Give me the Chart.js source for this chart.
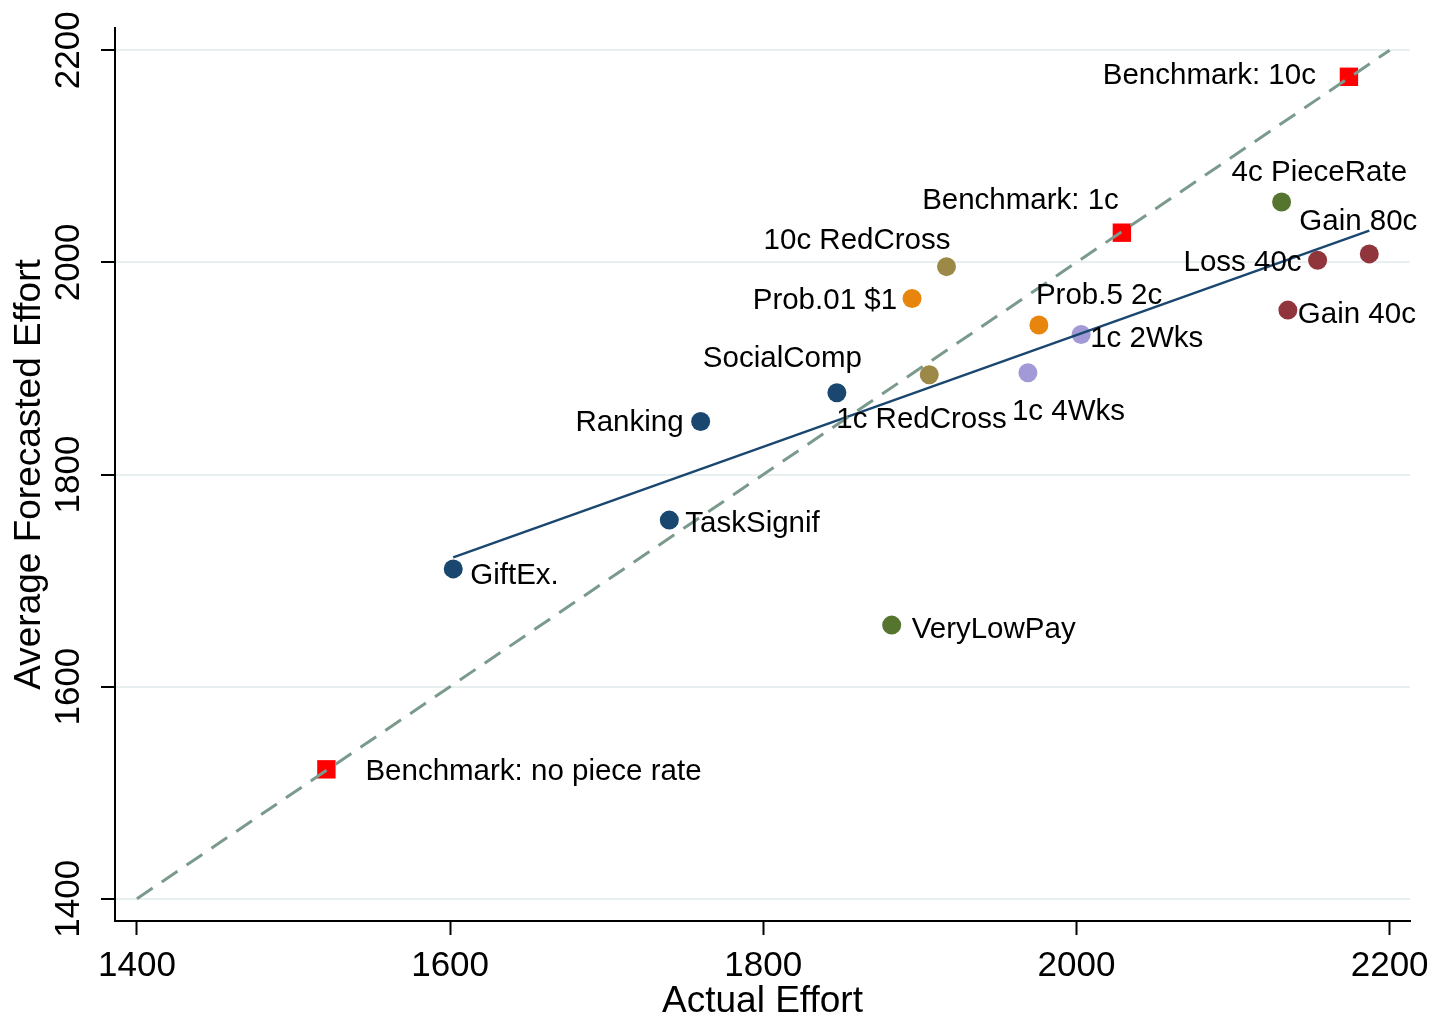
<!DOCTYPE html>
<html>
<head>
<meta charset="utf-8">
<script src="https://cdn.jsdelivr.net/npm/chart.js@4"></script>
<style>
  html, body { margin: 0; padding: 0; background: #fff; }
  canvas { display: block; }
</style>
</head>
<body>
<canvas id="chart" width="1436" height="1021"></canvas>
<script>
// treatments: actual effort vs. average forecasted effort
const names = [
  'Benchmark: 10c', 'Benchmark: 1c', 'Benchmark: no piece rate',
  '4c PieceRate', 'Gain 80c', 'Loss 40c', 'Gain 40c',
  '10c RedCross', 'Prob.01 $1', 'Prob.5 2c', '1c 2Wks', '1c 4Wks',
  '1c RedCross', 'SocialComp', 'Ranking', 'TaskSignif', 'GiftEx.', 'VeryLowPay'
]
const actual = [
  2174, 2029, 1521,
  2131, 2187, 2154, 2135,
  1917, 1895, 1976, 2003, 1969,
  1906, 1847, 1760, 1740, 1602, 1882
]
const forecast = [
  2175, 2028, 1522,
  2057, 2008, 2002, 1955,
  1996, 1966, 1941, 1932, 1896,
  1894, 1877, 1850, 1757, 1711, 1658
]
const groups = [
  'bench', 'bench', 'bench',
  'green', 'maroon', 'maroon', 'maroon',
  'tan', 'orange', 'orange', 'lavender', 'lavender',
  'tan', 'navy', 'navy', 'navy', 'navy', 'green'
]
const xTicks = [1400, 1600, 1800, 2000, 2200]
const yTicks = [1400, 1600, 1800, 2000, 2200]
const diagonal = [1400, 2200]

// styling
const FONT = '"Liberation Sans", Arial, sans-serif'
const groupColors = {
  bench: '#ff0000', navy: '#1a476f', maroon: '#90353b', green: '#55752f',
  orange: '#e8850c', tan: '#9c8847', lavender: '#a29ad6'
}
// [textAlign, dx, dy] relative to the marker
const labelPlace = [
  ['right', -33, -1], ['right', -3, -32], ['left', 39, 3],
  ['left', -50, -29], ['left', -70, -32], ['right', -16, 3], ['left', 10, 5],
  ['right', 4, -26], ['right', -15, 2], ['left', -3, -29], ['left', 9, 4], ['left', -16, 39],
  ['left', -93, 45], ['right', 25, -34], ['right', -17, 1], ['left', 16, 4], ['left', 17, 7], ['left', 20, 5]
]

// linear fit over the treatments (benchmarks left out)
function fitLine() {
  const idx = groups.map((g, i) => i).filter(i => groups[i] !== 'bench')
  const n = idx.length
  const mx = idx.reduce((s, i) => s + actual[i], 0) / n
  const my = idx.reduce((s, i) => s + forecast[i], 0) / n
  let sxy = 0, sxx = 0
  idx.forEach(i => {
    sxy += (actual[i] - mx) * (forecast[i] - my)
    sxx += (actual[i] - mx) ** 2
  })
  const b = sxy / sxx
  const xs = idx.map(i => actual[i])
  const x0 = Math.min(...xs), x1 = Math.max(...xs)
  return [{ x: x0, y: my + b * (x0 - mx) }, { x: x1, y: my + b * (x1 - mx) }]
}

const datasets = Object.keys(groupColors).map(g => {
  const pts = []
  groups.forEach((gg, i) => { if (gg === g) pts.push({ x: actual[i], y: forecast[i] }) })
  const isBench = g === 'bench'
  return {
    type: 'scatter',
    data: pts,
    order: 2,
    pointStyle: isBench ? 'rect' : 'circle',
    pointRadius: isBench ? 13 : 9.5,
    pointBackgroundColor: groupColors[g],
    pointBorderWidth: 0,
    pointHoverRadius: isBench ? 13 : 9.5
  }
})

datasets.push({
  type: 'line',
  data: fitLine(),
  order: 1,
  borderColor: '#1a476f',
  borderWidth: 2.5,
  pointRadius: 0,
  fill: false
})
datasets.push({
  type: 'line',
  data: diagonal.map(v => ({ x: v, y: v })),
  order: 0,
  borderColor: '#7a9a8c',
  borderWidth: 3,
  borderDash: [19, 11],
  pointRadius: 0,
  fill: false
})

const pointLabels = {
  id: 'pointLabels',
  afterDatasetsDraw(chart) {
    const { ctx, scales: { x, y } } = chart
    ctx.save()
    ctx.font = '29.5px ' + FONT
    ctx.fillStyle = '#000'
    ctx.textBaseline = 'middle'
    names.forEach((name, i) => {
      const [align, dx, dy] = labelPlace[i]
      ctx.textAlign = align
      ctx.fillText(name, x.getPixelForValue(actual[i]) + dx, y.getPixelForValue(forecast[i]) + dy)
    })
    ctx.restore()
  }
}

// vertical tick labels on the y axis
const yTickLabels = {
  id: 'yTickLabels',
  afterDraw(chart) {
    const { ctx, scales: { y } } = chart
    ctx.save()
    ctx.font = '35px ' + FONT
    ctx.fillStyle = '#000'
    ctx.textAlign = 'center'
    ctx.textBaseline = 'middle'
    y.ticks.forEach(t => {
      ctx.save()
      ctx.translate(y.right - 46, y.getPixelForValue(t.value))
      ctx.rotate(-Math.PI / 2)
      ctx.fillText(String(t.value), 0, 0)
      ctx.restore()
    })
    ctx.restore()
  }
}

new Chart(document.getElementById('chart'), {
  data: { datasets },
  plugins: [pointLabels, yTickLabels],
  options: {
    responsive: false,
    animation: false,
    layout: { padding: { top: 28, right: 26, left: 0, bottom: 0 } },
    plugins: { legend: { display: false }, tooltip: { enabled: false } },
    scales: {
      x: {
        type: 'linear',
        min: 1386,
        max: 2213,
        afterBuildTicks: s => { s.ticks = xTicks.map(v => ({ value: v })) },
        afterFit: s => { s.height = 100; s.paddingLeft = 0; s.paddingRight = 0 },
        border: { color: '#000', width: 2 },
        grid: { drawOnChartArea: false, tickLength: 14, tickColor: '#000', tickWidth: 2 },
        ticks: { color: '#000', font: { size: 35, family: FONT }, padding: 10, maxRotation: 0, callback: v => String(v) },
        title: { display: true, text: 'Actual Effort', color: '#000', font: { size: 37, family: FONT }, padding: { top: 0, bottom: -3 } }
      },
      y: {
        type: 'linear',
        min: 1379,
        max: 2221,
        afterBuildTicks: s => { s.ticks = yTicks.map(v => ({ value: v })) },
        afterFit: s => { s.width = 115; s.paddingTop = 0; s.paddingBottom = 0 },
        border: { color: '#000', width: 2 },
        grid: { color: '#e8eff1', lineWidth: 2, tickLength: 14, tickColor: '#000', tickWidth: 2 },
        ticks: { display: false },
        title: { display: true, text: 'Average Forecasted Effort', color: '#000', font: { size: 37, family: FONT }, padding: { top: 8, bottom: 0 } }
      }
    }
  }
})
</script>
</body>
</html>
